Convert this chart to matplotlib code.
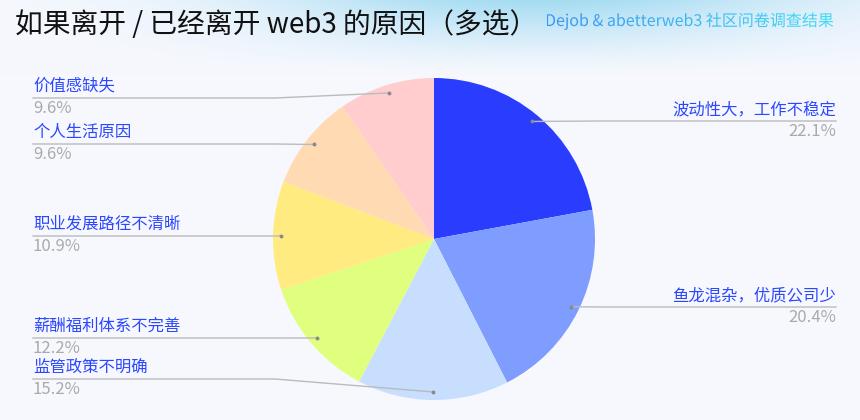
import numpy as np
import matplotlib
matplotlib.use("Agg")
import matplotlib.pyplot as plt
from matplotlib.textpath import TextPath
from matplotlib.font_manager import FontProperties
from matplotlib.colors import to_rgb

plt.rcParams['font.family'] = ['Noto Sans CJK SC', 'DejaVu Sans']

# 数据
labels = ['波动性大，工作不稳定', '鱼龙混杂，优质公司少', '监管政策不明确',
          '薪酬福利体系不完善', '职业发展路径不清晰', '个人生活原因', '价值感缺失']
values = [22.1, 20.4, 15.2, 12.2, 10.9, 9.6, 9.6]
colors = ['#2A3DFF', '#7F9CFF', '#C8DEFF', '#E0FF7F', '#FFEB80', '#FFDAB3', '#FFCDCD']

# 标签布局（像素，y 向下）
label_y = [121, 307, 379, 338, 236, 144, 98]
label_side = ['r', 'r', 'l', 'l', 'l', 'l', 'l']

W, H = 860, 420
cx, cy, R = 434, 239, 161

fig = plt.figure(figsize=(8.6, 4.2), dpi=100)
ax = fig.add_axes([0, 0, 1, 1])
ax.set_axis_off()

# 背景渐变
yy, xx = np.mgrid[0:H, 0:W]
base = np.array(to_rgb('#F7F8FE'))
tint = np.array([150, 215, 240]) / 255
a = np.clip(1 - yy / 75.0, 0, 1) ** 1.3 * np.exp(-((xx - 540) / 280.0) ** 2) * 0.85
bg = base[None, None, :] * (1 - a[..., None]) + tint[None, None, :] * a[..., None]
ax.imshow(bg, extent=[0, W, 0, H], origin='upper', zorder=0)

# 饼图
ax.pie(values, colors=colors, startangle=90, counterclock=False,
       center=(cx, H - cy), radius=R, wedgeprops=dict(linewidth=0), frame=False)

# 引导线与标签
cum = np.cumsum([0] + values[:-1])
for name, v, c0, ly, side in zip(labels, values, cum, label_y, label_side):
    ang = np.deg2rad((c0 + v / 2) / sum(values) * 360)
    dx = cx + 0.95 * R * np.sin(ang)
    dy = cy - 0.95 * R * np.cos(ang)
    if side == 'l':
        xs = [dx, 275, 33]
        tx, ha = 33, 'left'
    else:
        xs = [dx, 600, 836]
        tx, ha = 836, 'right'
    ys = [dy, ly, ly]
    ax.plot(xs, [H - y for y in ys], color='#BBBBBB', lw=1, zorder=3)
    ax.plot(dx, H - dy, 'o', ms=1.8, color='#8A8A8A', zorder=4)
    ax.text(tx, H - ly + 3, name, ha=ha, va='bottom', fontsize=11.8, color='#2B48FF', zorder=5)
    ax.text(tx, H - ly - 2, f'{v}%', ha=ha, va='top', fontsize=12, color='#AAAAAA', zorder=5)

# 标题
ax.text(15, H - 25, '如果离开 / 已经离开 web3 的原因（多选）', ha='left', va='center',
        fontsize=20, color='#111111', zorder=5)

# 副标题（渐变色文字）
sub = 'Dejob & abetterweb3 社区问卷调查结果'
tp = TextPath((545, H - 26), sub, size=16, prop=FontProperties(family='Noto Sans CJK SC'))
ext = tp.get_extents()
g = np.linspace(0, 1, 200)[None, :, None]
c1, c2 = np.array(to_rgb('#3D95F5')), np.array(to_rgb('#42DDF2'))
grad = np.repeat(c1 * (1 - g) + c2 * g, 2, axis=0)
im = ax.imshow(grad, extent=[ext.x0, ext.x1, ext.y0, ext.y1], aspect='auto', zorder=5)
im.set_clip_path(tp, transform=ax.transData)

ax.set_xlim(0, W)
ax.set_ylim(0, H)
ax.set_aspect('auto')

fig.savefig('out.png', dpi=100)
